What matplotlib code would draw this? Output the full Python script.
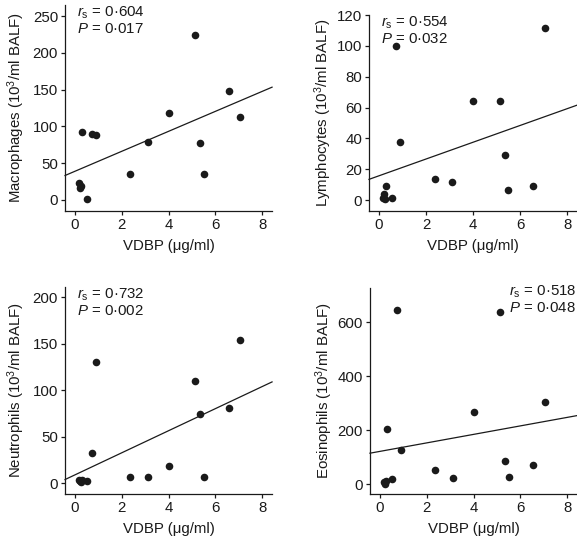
import matplotlib.pyplot as plt
import numpy as np

# --- Data ---
vdbp = np.array([0.17, 0.21, 0.26, 0.28, 0.53, 0.74, 0.88, 2.36, 3.11,
                 4.00, 5.14, 5.34, 5.50, 6.56, 7.07])   # ug/ml

macrophages = np.array([22.6, 15.8, 19.0, 91.8, 1.4, 89.5, 88.0, 34.8, 79.0,
                        118.4, 224.7, 78.0, 34.8, 147.8, 113.0])
lymphocytes = np.array([1.5, 3.9, 1.0, 9.4, 1.5, 99.6, 38.0, 13.7, 11.8,
                        64.6, 64.6, 29.6, 6.7, 9.4, 111.4])
neutrophils = np.array([3.0, 2.0, 1.0, 4.0, 2.0, 33.0, 130.0, 7.2, 7.2,
                        19.0, 110.0, 75.0, 7.2, 81.4, 154.5])
eosinophils = np.array([8.0, 2.0, 12.0, 203.7, 18.5, 645.7, 126.0, 53.0, 24.7,
                        266.7, 638.0, 86.4, 28.4, 71.6, 306.0])

cell_names = ['Macrophages', 'Lymphocytes', 'Neutrophils', 'Eosinophils']
rs_values = ['0·604', '0·554', '0·732', '0·518']
p_values = ['0·017', '0·032', '0·002', '0·048']
yticks = [[0, 50, 100, 150, 200, 250],
          [0, 20, 40, 60, 80, 100, 120],
          [0, 50, 100, 150, 200],
          [0, 200, 400, 600]]
ylims = [(-15, 265), (-7, 120), (-11.5, 211), (-36, 727)]

# --- Style ---
plt.rcParams['font.family'] = ['Liberation Sans', 'DejaVu Sans']
plt.rcParams['mathtext.fontset'] = 'custom'
plt.rcParams['mathtext.rm'] = 'Liberation Sans'
plt.rcParams['mathtext.it'] = 'Liberation Sans:italic'
plt.rcParams['font.size'] = 10.8
ink = '#1a1a1a'

fig = plt.figure(figsize=(5.77, 5.36), dpi=100)
# axes boxes in figure fraction (left, bottom, width, height)
boxes = [(0.1127, 0.6063, 0.3588, 0.3843),
         (0.6395, 0.6063, 0.3605, 0.3657),
         (0.1127, 0.0784, 0.3588, 0.3862),
         (0.6412, 0.0784, 0.3588, 0.3843)]
label_x = [-0.185, -0.168, -0.185, -0.171]
series = [macrophages, lymphocytes, neutrophils, eosinophils]
xlim = (-0.43, 8.42)

for i, (box, y) in enumerate(zip(boxes, series)):
    ax = fig.add_axes(box)
    ax.scatter(vdbp, y, s=30, color=ink, zorder=3, linewidths=0)

    # least-squares regression line across the full x range
    slope, icpt = np.polyfit(vdbp, y, 1)
    xs = np.array(xlim)
    ax.plot(xs, icpt + slope * xs, color=ink, lw=0.9, clip_on=False)

    ax.set_xlim(xlim)
    ax.set_ylim(ylims[i])
    ax.set_xticks([0, 2, 4, 6, 8])
    ax.set_yticks(yticks[i])
    ax.tick_params(direction='out', length=3, width=0.9, pad=2,
                   colors=ink, labelsize=10.8)
    for side in ['top', 'right']:
        ax.spines[side].set_visible(False)
    for side in ['left', 'bottom']:
        ax.spines[side].set_linewidth(0.9)
        ax.spines[side].set_color(ink)

    ax.set_xlabel('VDBP (μg/ml)', color=ink, labelpad=5)
    ax.set_ylabel(cell_names[i] + ' (10$^3$/ml BALF)', color=ink)
    ax.yaxis.set_label_coords(label_x[i], 0.5)

    txt = '$r_\\mathrm{s}$ = ' + rs_values[i] + '\n$P$ = ' + p_values[i]
    if i == 3:
        ax.text(0.995, 1.02, txt, transform=ax.transAxes, ha='right',
                va='top', color=ink, linespacing=1.05)
    else:
        ax.text(0.06, 1.0, txt, transform=ax.transAxes, ha='left',
                va='top', color=ink, linespacing=1.05)

plt.savefig('out.png')
